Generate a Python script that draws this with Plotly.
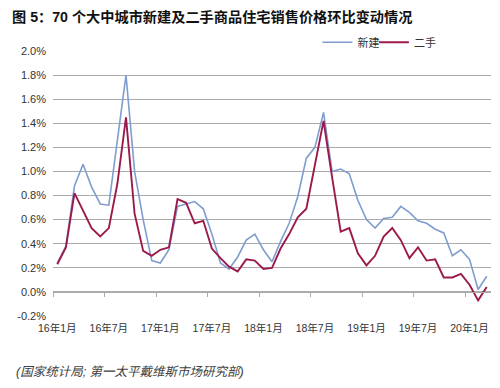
import plotly.graph_objects as go

# ---- data ----
months = [f"{y}年{m}月" for y in range(16, 21) for m in range(1, 13)][:51]  # 16年1月 .. 20年3月

new_homes = [0.24, 0.38, 0.88, 1.06, 0.87, 0.73, 0.72, 1.26, 1.80, 1.00,
             0.60, 0.26, 0.24, 0.35, 0.71, 0.73, 0.75, 0.69, 0.48, 0.24,
             0.19, 0.29, 0.43, 0.48, 0.35, 0.25, 0.42, 0.57, 0.79, 1.11,
             1.20, 1.49, 1.00, 1.02, 0.98, 0.76, 0.60, 0.53, 0.61, 0.62,
             0.71, 0.66, 0.59, 0.57, 0.52, 0.49, 0.30, 0.35, 0.27, 0.02,
             0.13]

second_hand = [0.23, 0.37, 0.82, 0.68, 0.53, 0.46, 0.53, 0.90, 1.45, 0.65,
               0.34, 0.30, 0.35, 0.37, 0.77, 0.74, 0.57, 0.59, 0.36, 0.28,
               0.21, 0.17, 0.27, 0.26, 0.19, 0.20, 0.36, 0.48, 0.62, 0.69,
               1.05, 1.42, 0.95, 0.50, 0.53, 0.32, 0.22, 0.30, 0.46, 0.53,
               0.43, 0.28, 0.37, 0.26, 0.27, 0.12, 0.12, 0.15, 0.06, -0.07,
               0.04]

x_tick_labels = ["16年1月", "16年7月", "17年1月", "17年7月", "18年1月",
                 "18年7月", "19年1月", "19年7月", "20年1月"]
y_tick_values = [-0.2, 0.0, 0.2, 0.4, 0.6, 0.8, 1.0, 1.2, 1.4, 1.6, 1.8, 2.0]
y_tick_labels = ["-0.2%", "0.0%", "0.2%", "0.4%", "0.6%", "0.8%", "1.0%",
                 "1.2%", "1.4%", "1.6%", "1.8%", "2.0%"]

title_text = "图 5：70 个大中城市新建及二手商品住宅销售价格环比变动情况"
source_text = "(国家统计局; 第一太平戴维斯市场研究部)"

# ---- styling ----
BLUE = "#7f9dcf"
RED = "#9c1a4b"
GRID = "#ababab"
TXT = "#333333"
FONT = "Liberation Sans, Arial, Noto Sans CJK SC, sans-serif"
Y_MIN, Y_MAX = -0.2, 2.0

# the page body has a default 8px margin; size the figure so it fits the window
OFF = 8
W, H = 500 - OFF, 388 - OFF
ML, MR, MT, MB = 49 - OFF, 9, 51 - OFF, 72
PW, PH = W - ML - MR, H - MT - MB

n = len(months)
x_range = [-0.5, n - 0.5]
tick_positions = [months.index(t) for t in x_tick_labels]
tick_boundaries = [p - 0.5 for p in tick_positions]

fig = go.Figure()
fig.add_trace(go.Scatter(x=months, y=new_homes, name="新建", mode="lines",
                         line=dict(color=BLUE, width=1.6), legend="legend"))
fig.add_trace(go.Scatter(x=months, y=second_hand, name="二手", mode="lines",
                         line=dict(color=RED, width=1.9), legend="legend2"))
# helper trace so the axis line at y = 0 (with its tick marks) is drawn
fig.add_trace(go.Scatter(x=[], y=[], xaxis="x2", showlegend=False,
                         hoverinfo="skip"))

legend_common = dict(orientation="h", xanchor="left", y=1.033,
                     yanchor="middle", font=dict(size=11, color=TXT),
                     bgcolor="rgba(0,0,0,0)", itemwidth=30)
LEG_X = 0.6037

fig.update_layout(
    width=W, height=H,
    margin=dict(l=ML, r=MR, t=MT, b=MB, pad=0),
    paper_bgcolor="white", plot_bgcolor="white",
    font=dict(family=FONT, size=11, color=TXT),
    title=dict(text=title_text, x=(12 - OFF) / W, xanchor="left",
               y=1 - (17 - OFF) / H, yanchor="middle",
               font=dict(family="Liberation Sans, Noto Sans CJK SC", size=14.2,
                         color="#111111", weight="bold")),
    showlegend=True,
    legend=dict(x=LEG_X, **legend_common),
    legend2=dict(x=LEG_X + 57 / PW, **legend_common),
    xaxis=dict(type="category", range=x_range, tickmode="array",
               tickvals=x_tick_labels, ticktext=x_tick_labels,
               ticks="", showgrid=False, showline=False, zeroline=False,
               tickfont=dict(size=10.5, color=TXT), ticklabelstandoff=4),
    xaxis2=dict(overlaying="x", anchor="free",
                position=(0 - Y_MIN) / (Y_MAX - Y_MIN), side="bottom",
                range=x_range, tickmode="array", tickvals=tick_boundaries,
                ticks="outside", ticklen=4, tickcolor=GRID, tickwidth=1,
                showticklabels=False, showline=True, linecolor=GRID,
                linewidth=1, showgrid=False, zeroline=False),
    yaxis=dict(range=[Y_MIN, Y_MAX], tickmode="array",
               tickvals=y_tick_values, ticktext=y_tick_labels,
               showgrid=True, gridcolor=GRID, gridwidth=1,
               zeroline=False, showline=False, ticks="",
               tickfont=dict(size=11, color=TXT), ticklabelstandoff=6),
    annotations=[dict(text=f"<i>{source_text}</i>", xref="paper",
                      yref="paper", x=(10 - 49) / PW, xanchor="left",
                      y=(316.5 - 372.7) / PH, yanchor="middle",
                      showarrow=False,
                      font=dict(size=12.5, color="#404040"))],
)

fig.write_html("out.html")
